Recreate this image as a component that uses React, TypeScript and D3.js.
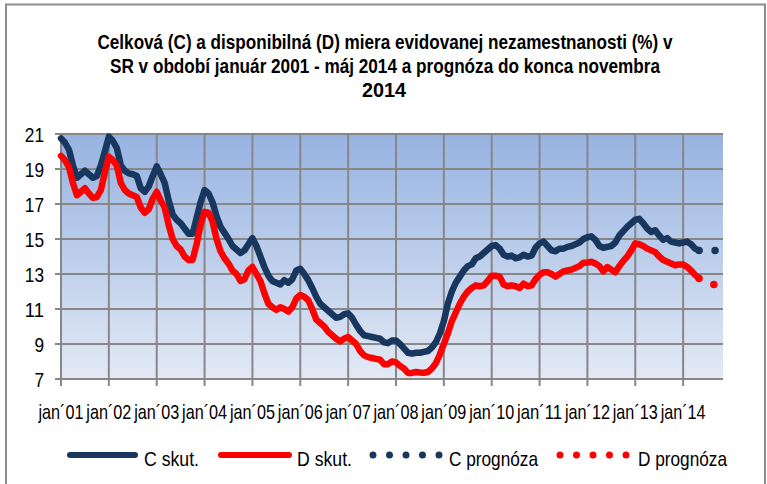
import React from 'react';
import * as d3 from 'd3';

// month index 0 = jan 2001, 166 = nov 2014
const yearLabels = ['jan´01', 'jan´02', 'jan´03', 'jan´04', 'jan´05', 'jan´06', 'jan´07',
  'jan´08', 'jan´09', 'jan´10', 'jan´11', 'jan´12', 'jan´13', 'jan´14'];
const yTicks = [7, 9, 11, 13, 15, 17, 19, 21];

// C skut. (jan 2001 - máj 2014)
const cActual = [
  20.75, 20.5, 20.1, 19.2, 18.5, 18.7, 18.9, 18.7, 18.5, 18.6, 19.2, 20.0,
  20.85, 20.6, 20.2, 19.2, 18.9, 18.75, 18.7, 18.6, 17.9, 17.7, 18.0, 18.6,
  19.15, 18.7, 18.2, 17.2, 16.4, 16.1, 15.9, 15.6, 15.3, 15.3, 16.2, 17.1,
  17.8, 17.6, 17.1, 16.3, 15.7, 15.35, 15.0, 14.6, 14.4, 14.2, 14.35, 14.7,
  15.05, 14.6, 14.0, 13.4, 12.9, 12.6, 12.5, 12.4, 12.65, 12.5, 12.7, 13.2,
  13.3, 13.0, 12.65, 12.2, 11.7, 11.3, 11.1, 10.9, 10.7, 10.5, 10.55, 10.7,
  10.75, 10.5, 10.1, 9.75, 9.5, 9.45, 9.4, 9.35, 9.3, 9.1, 9.05, 9.2,
  9.2, 9.0, 8.75, 8.5, 8.45, 8.5, 8.5, 8.55, 8.6, 8.8, 9.1, 9.6,
  10.3, 11.3, 12.0, 12.5, 12.85, 13.2, 13.45, 13.55, 13.9, 14.0, 14.2, 14.4,
  14.6, 14.65, 14.45, 14.1, 14.0, 14.05, 13.9, 13.95, 14.1, 14.0, 14.05, 14.5,
  14.75, 14.85, 14.6, 14.35, 14.3, 14.45, 14.45, 14.55, 14.6, 14.7, 14.8, 15.0,
  15.1, 15.15, 14.95, 14.6, 14.5, 14.55, 14.6, 14.8, 15.2, 15.45, 15.7, 15.9,
  16.1, 16.15, 15.9, 15.6, 15.4, 15.5, 15.2, 14.95, 15.05, 14.85, 14.8, 14.75,
  14.8, 14.85, 14.7, 14.45, 14.35
];

// D skut.
const dActual = [
  19.75, 19.5, 19.1, 18.2, 17.5, 17.7, 17.9, 17.6, 17.35, 17.4, 17.8, 18.8,
  19.7, 19.5, 19.2, 18.2, 17.8, 17.6, 17.5, 17.4, 16.8, 16.5, 16.7, 17.3,
  17.7, 17.2, 16.8, 15.8, 15.0, 14.6, 14.4, 14.0, 13.8, 13.8, 14.7, 15.8,
  16.55, 16.5, 16.0, 15.0, 14.3, 13.9, 13.6, 13.2, 13.0, 12.6, 12.7, 13.2,
  13.4, 13.0, 12.6, 11.9, 11.3, 11.1, 10.95, 11.1, 11.0, 10.85, 11.1, 11.6,
  11.8, 11.7, 11.5, 11.0, 10.4, 10.2, 10.0, 9.7, 9.5, 9.3, 9.15, 9.3,
  9.4, 9.2, 9.0, 8.6, 8.35, 8.25, 8.2, 8.15, 8.1, 7.85, 7.85, 8.0,
  7.95, 7.75, 7.6, 7.35, 7.35, 7.4, 7.37, 7.36, 7.4, 7.6, 7.9, 8.4,
  9.0, 9.6, 10.3, 10.8, 11.3, 11.7, 12.0, 12.2, 12.35, 12.3, 12.35, 12.6,
  12.9, 12.9, 12.85, 12.4, 12.3, 12.35, 12.3, 12.2, 12.45, 12.3, 12.35, 12.7,
  12.95, 13.1, 13.1, 13.0, 12.85, 13.0, 13.15, 13.2, 13.25, 13.35, 13.45, 13.65,
  13.65, 13.7, 13.6, 13.45, 13.15, 13.4, 13.25, 13.1, 13.45, 13.75, 14.0, 14.35,
  14.75, 14.7, 14.6, 14.45, 14.35, 14.25, 14.0, 13.8, 13.7, 13.6, 13.5, 13.55,
  13.55, 13.4, 13.2, 12.95, 12.75
];

// prognóza máj 2014 - nov 2014
const progStart = 160;
const cPrognosis = [14.35, 14.35, 14.35, 14.35, 14.35, 14.35, 14.35];
const dPrognosis = [12.75, 12.65, 12.55, 12.45, 12.38, 12.35, 12.3];

const W = 767, H = 484;
const left = 61, right = 723, top = 134, bottom = 379;
const navy = '#17375e';
const red = '#ff0000';
const grid = '#878787';
const font = "'Liberation Sans', Arial, sans-serif";
const narrow = 0.82; // Arial Narrow ~ 82% of Arial

// narrow text: horizontally squeezed Liberation Sans, pinned to width w
const NText = ({ x, y, w, anchor = 'start', children, ...rest }: any) => (
  <text transform={`translate(${x},${y}) scale(${narrow},1)`} textAnchor={anchor}
    textLength={w / narrow} lengthAdjust="spacingAndGlyphs" {...rest}>
    {children}
  </text>
);

const App = () => {
  const x = d3.scaleLinear().domain([0, 166]).range([left, right]);
  const y = d3.scaleLinear().domain([7, 21]).range([bottom, top]);

  const line = d3.line<number>()
    .x((d, i) => x(i))
    .y(d => y(d));
  const progLine = d3.line<number>()
    .x((d, i) => x(progStart + i))
    .y(d => y(d));

  const yearX = yearLabels.map((_, i) => x(i * 12));

  return (
    <svg width={W} height={H} style={{ position: 'absolute', left: 0, top: 0 }}
      fontFamily={font}>
      <defs>
        <linearGradient id="plotBg" x1="0" y1="0" x2="0" y2="1">
          <stop offset="0%" stopColor="#96b3e1" />
          <stop offset="100%" stopColor="#e3e9f5" />
        </linearGradient>
      </defs>
      <rect x={0} y={0} width={W} height={H} fill="#fff" />
      <rect x={6} y={4.5} width={759} height={500} fill="none" stroke="#8c8c8c" strokeWidth={2} />

      <g fontWeight="bold" fontSize={20} fill="#000">
        <NText x={385} y={49} w={575} anchor="middle">Celková (C) a disponibilná (D) miera evidovanej nezamestnanosti (%) v</NText>
        <NText x={385} y={73} w={550} anchor="middle">SR v období január 2001 - máj 2014 a prognóza do konca novembra</NText>
        <NText x={384} y={97} w={44} anchor="middle">2014</NText>
      </g>

      <rect x={left} y={top} width={right - left} height={bottom - top} fill="url(#plotBg)" />

      {yTicks.filter(t => t > 7).map(t => (
        <line key={'h' + t} x1={left - 6} x2={right} y1={y(t)} y2={y(t)} stroke={grid} strokeWidth={2} />
      ))}
      {yearX.map((xx, i) => (
        <line key={'v' + i} x1={xx} x2={xx} y1={top} y2={bottom + 7}
          stroke={grid} strokeWidth={2} />
      ))}
      <line x1={left - 6} x2={right} y1={bottom} y2={bottom} stroke={grid} strokeWidth={2} />

      <g fontSize={21} fill="#000">
        {yTicks.map(t => (
          <NText key={'yl' + t} x={44} y={y(t) + 7.5} w={String(t).length * 9.6} anchor="end">{t}</NText>
        ))}
      </g>
      <g fontSize={21} fill="#000">
        {yearLabels.map((l, i) => (
          <NText key={'xl' + i} x={yearX[i]} y={419} w={45} anchor="middle">{l}</NText>
        ))}
      </g>

      <path d={line(cActual) || ''} fill="none" stroke={navy} strokeWidth={6.5}
        strokeLinejoin="round" strokeLinecap="round" />
      <path d={line(dActual) || ''} fill="none" stroke={red} strokeWidth={6.5}
        strokeLinejoin="round" strokeLinecap="round" />
      <path d={progLine(cPrognosis) || ''} fill="none" stroke={navy} strokeWidth={7.5}
        strokeDasharray="0 16" strokeLinecap="round" />
      <path d={progLine(dPrognosis) || ''} fill="none" stroke={red} strokeWidth={7.5}
        strokeDasharray="0 16" strokeLinecap="round" />

      <g fontSize={21} fill="#000">
        <line x1={70} x2={135} y1={455} y2={455} stroke={navy} strokeWidth={6} strokeLinecap="round" />
        <NText x={144} y={466} w={55}>C skut.</NText>
        <line x1={221} x2={289} y1={455} y2={455} stroke={red} strokeWidth={6} strokeLinecap="round" />
        <NText x={297} y={466} w={55}>D skut.</NText>
        <line x1={373} x2={440} y1={455} y2={455} stroke={navy} strokeWidth={7}
          strokeDasharray="0 16.5" strokeLinecap="round" />
        <NText x={449} y={466} w={89}>C prognóza</NText>
        <line x1={560} x2={627} y1={455} y2={455} stroke={red} strokeWidth={7}
          strokeDasharray="0 16.5" strokeLinecap="round" />
        <NText x={638} y={466} w={89}>D prognóza</NText>
      </g>
    </svg>
  );
};

export default App;
